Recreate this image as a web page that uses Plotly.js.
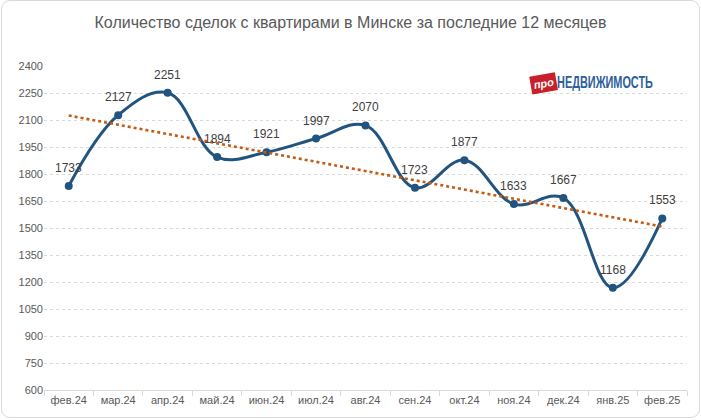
<!DOCTYPE html>
<html>
<head>
<meta charset="utf-8">
<script src="https://cdn.plot.ly/plotly-3.0.1.min.js"></script>
<style>
html,body{margin:0;padding:0;background:#fff;}
#wrap{position:relative;width:701px;height:420px;}
#chart{width:701px;height:420px;}
#frame{position:absolute;left:1px;top:0px;width:697px;height:416px;border:1px solid #d9d9d9;border-radius:9px;pointer-events:none;}
</style>
</head>
<body>
<div id="wrap"><div id="chart"></div><div id="frame"></div></div>
<script>
const months = ["фев.24","мар.24","апр.24","май.24","июн.24","июл.24","авг.24","сен.24","окт.24","ноя.24","дек.24","янв.25","фев.25"];
const deals = [1733,2127,2251,1894,1921,1997,2070,1723,1877,1633,1667,1168,1553];
const yTicks = [600,750,900,1050,1200,1350,1500,1650,1800,1950,2100,2250,2400];

// linear trend (least squares) of the series
const n = deals.length;
const xm = (n-1)/2;
const ym = deals.reduce((a,b)=>a+b,0)/n;
let sxy=0, sxx=0;
deals.forEach((v,i)=>{sxy+=(i-xm)*(v-ym); sxx+=(i-xm)*(i-xm);});
const slope = sxy/sxx;
const trend = deals.map((v,i)=>ym+slope*(i-xm));

const font = "Liberation Sans, Arial, sans-serif";

const traces = [
  {
    x: months, y: deals, type: 'scatter', mode: 'lines+markers',
    line: {color:'#225480', width:3, shape:'spline', smoothing:1.1},
    marker: {color:'#225480', size:8},
    hoverinfo:'x+y', showlegend:false
  },
  {
    x: months, y: trend, type: 'scatter', mode: 'lines',
    line: {color:'#C55A11', width:2.6, dash:'dot'},
    hoverinfo:'skip', showlegend:false
  }
];

const annotations = months.map((m,i)=>({
  x: m, y: deals[i], xref:'x', yref:'y', text: String(deals[i]),
  showarrow:false, yshift:18, font:{family:font, size:12, color:'#404040'}
}));

annotations.push({
  xref:'paper', yref:'paper', x:(555-44)/643, y:(390-82.5)/324, xanchor:'left', yanchor:'middle',
  text:'<b>НЕДВИЖИМОСТЬ</b>', showarrow:false,
  font:{family:font, size:17, color:'#2D5E9E'}
});
annotations.push({
  xref:'paper', yref:'paper', x:(543-44)/643, y:(390-83)/324, xanchor:'center', yanchor:'middle',
  text:'<b><i>про</i></b>', showarrow:false, textangle:-10,
  bgcolor:'#C8202A', borderpad:2.5,
  font:{family:font, size:11, color:'#ffffff'}
});

const layout = {
  width:701, height:420,
  margin:{l:44, r:14, t:66, b:30},
  paper_bgcolor:'#ffffff', plot_bgcolor:'#ffffff',
  title:{text:'Количество сделок с квартирами в Минске за последние 12 месяцев',
    font:{family:font, size:16, color:'#595959'}, x:0.5, xanchor:'center', y:0.947, yanchor:'middle'},
  xaxis:{
    type:'category', range:[-0.5, 12.5], fixedrange:true,
    showgrid:false, showline:true, linecolor:'#d9d9d9', linewidth:1,
    ticks:'outside', tickson:'boundaries', ticklen:5, tickcolor:'#d9d9d9',
    tickfont:{family:font, size:11, color:'#595959'}, zeroline:false
  },
  yaxis:{
    range:[600,2400], tickvals:yTicks, ticktext:yTicks.map(String), fixedrange:true,
    showgrid:true, gridcolor:'#d9d9d9', griddash:'dot', gridwidth:1,
    showline:false, zeroline:false, ticks:'', ticklen:0,
    tickfont:{family:font, size:11, color:'#595959'}
  },
  annotations: annotations,
  showlegend:false
};

Plotly.newPlot('chart', traces, layout, {displayModeBar:false, staticPlot:true}).then(()=>{
  // condense the logo wordmark horizontally (narrow typeface look)
  document.querySelectorAll('#chart .annotation-text').forEach(t=>{
    if (t.textContent === 'НЕДВИЖИМОСТЬ') {
      const bb = t.getBBox();
      const s = 96 / bb.width;
      const x0 = bb.x;
      t.setAttribute('transform', 'translate(' + x0 + ',0) scale(' + s + ',1) translate(' + (-x0) + ',0)');
    }
  });
});
</script>
</body>
</html>
